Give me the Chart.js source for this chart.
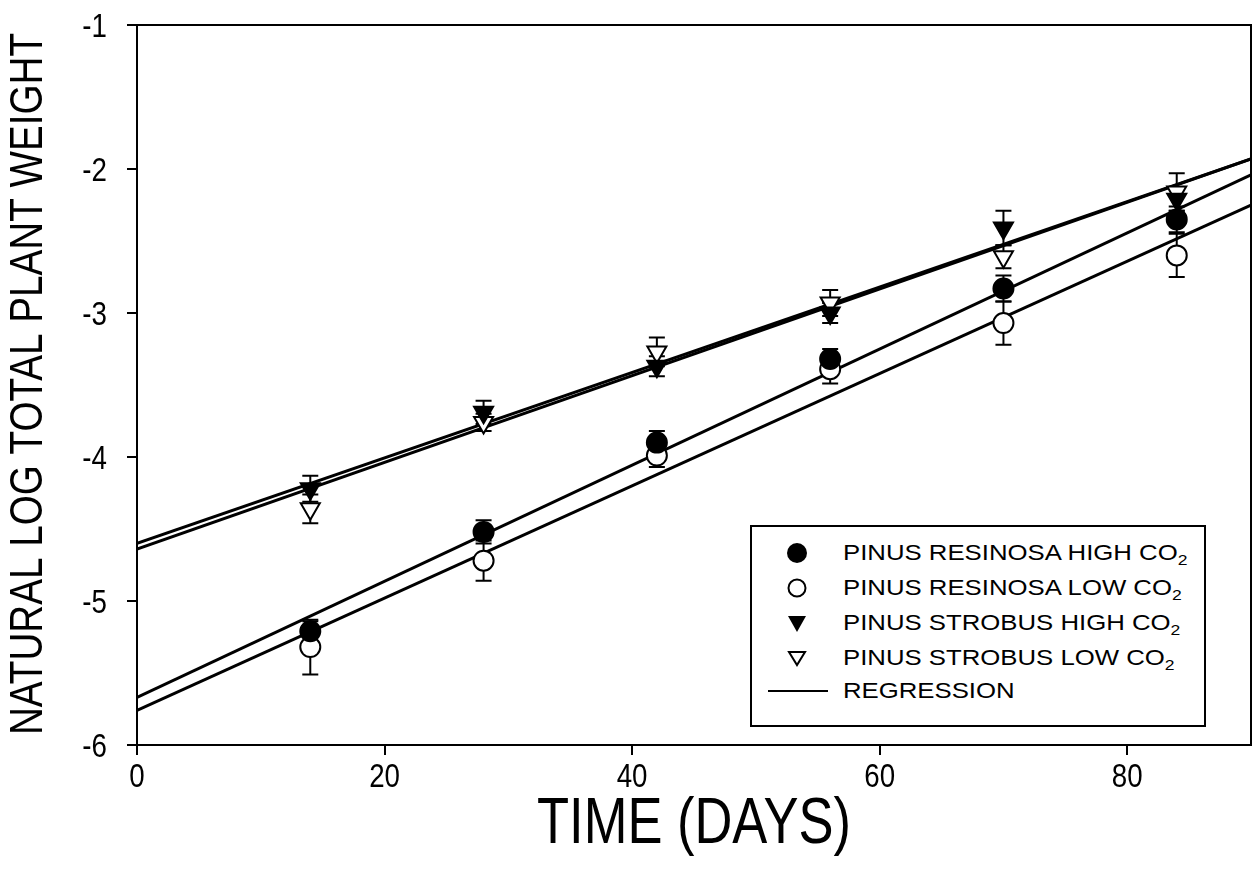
<!DOCTYPE html>
<html>
<head>
<meta charset="utf-8">
<script src="https://cdn.jsdelivr.net/npm/chart.js@4.4.0/dist/chart.umd.min.js"></script>
<style>
  html, body { margin: 0; background: #fff; overflow: hidden; }
  #wrap { position: relative; width: 1258px; height: 874px; }
  #growthChart { display: block; }
  #legend {
    position: absolute; left: 750px; top: 525px; width: 452px; height: 198px;
    border: 2px solid #000; background: #fff;
    font-family: "Liberation Sans", Arial, sans-serif; font-size: 22px; color: #000;
  }
  #legend .row { position: absolute; left: 0; height: 30px; line-height: 30px; white-space: nowrap; }
  #legend svg { position: absolute; left: 0; top: 0; }
  #legend span { position: absolute; left: 91px; transform: scaleX(1.17); transform-origin: 0 50%; }
  #legend sub { font-size: 15px; vertical-align: -5px; line-height: 0; }
</style>
</head>
<body>
<div id="wrap">
  <canvas id="growthChart" width="1258" height="874"></canvas>
  <div id="legend"></div>
</div>
<script>
// data
const days = [14, 28, 42, 56, 70, 84];
const resinosaHigh = [-5.21, -4.52, -3.90, -3.32, -2.83, -2.35];
const resinosaLow  = [-5.32, -4.72, -3.99, -3.39, -3.07, -2.60];
const strobusHigh  = [-4.22, -3.69, -3.37, -3.00, -2.41, -2.21];
const strobusLow   = [-4.36, -3.76, -3.27, -2.93, -2.61, -2.16];

// standard errors
const resinosaHighErr = [0.07, 0.08, 0.08, 0.07, 0.09, 0.09];
const resinosaLowErr  = [0.19, 0.14, 0.08, 0.10, 0.15, 0.15];
const strobusHighErr  = [0.09, 0.08, 0.07, 0.07, 0.12, 0.08];
const strobusLowErr   = [0.10, 0.06, 0.10, 0.09, 0.08, 0.13];

// regression lines, value at day 0 and day 90
const regDays = [0, 90];
const regStart = [-5.67, -5.76, -4.60, -4.64];
const regEnd   = [-2.04, -2.25, -1.93, -1.93];

const xTicks = [0, 20, 40, 60, 80];
const yTicks = [-6, -5, -4, -3, -2, -1];

const xTitle = 'TIME (DAYS)';
const yTitle = 'NATURAL LOG TOTAL PLANT WEIGHT';

const legendLabels = [
    'PINUS RESINOSA HIGH CO<sub>2</sub>',
    'PINUS RESINOSA LOW CO<sub>2</sub>',
    'PINUS STROBUS HIGH CO<sub>2</sub>',
    'PINUS STROBUS LOW CO<sub>2</sub>',
    'REGRESSION'
];

const font = '"Liberation Sans", Arial, sans-serif';

function points(ys) {
    return days.map((d, i) => ({ x: d, y: ys[i] }));
}

const series = [
    { label: 'PINUS RESINOSA HIGH CO2', ys: resinosaHigh, err: resinosaHighErr, style: 'circle', fill: '#000', r: 10, rot: 0 },
    { label: 'PINUS RESINOSA LOW CO2', ys: resinosaLow, err: resinosaLowErr, style: 'circle', fill: '#fff', r: 10, rot: 0 },
    { label: 'PINUS STROBUS HIGH CO2', ys: strobusHigh, err: strobusHighErr, style: 'triangle', fill: '#000', r: 11, rot: 180 },
    { label: 'PINUS STROBUS LOW CO2', ys: strobusLow, err: strobusLowErr, style: 'triangle', fill: '#fff', r: 11, rot: 180 }
];

const datasets = [];
regStart.forEach((s, i) => {
    datasets.push({
        type: 'line',
        label: 'REGRESSION',
        data: [{ x: regDays[0], y: s }, { x: regDays[1], y: regEnd[i] }],
        borderColor: '#000',
        borderWidth: 3,
        pointRadius: 0,
        pointHoverRadius: 0,
        fill: false,
        order: 5
    });
});
series.forEach(s => {
    datasets.push({
        type: 'scatter',
        label: s.label,
        data: points(s.ys),
        errors: s.err,
        pointStyle: s.style,
        pointRotation: s.rot,
        pointRadius: s.r,
        pointHoverRadius: s.r,
        backgroundColor: s.fill,
        borderColor: '#000',
        borderWidth: 2,
        order: 1
    });
});

// error bars, drawn under the markers
const errorBars = {
    id: 'errorBars',
    beforeDatasetsDraw(chart) {
        const { ctx, scales: { x, y } } = chart;
        ctx.save();
        ctx.strokeStyle = '#000';
        ctx.lineWidth = 2;
        chart.data.datasets.forEach(ds => {
            if (!ds.errors) return;
            ds.data.forEach((p, i) => {
                const px = x.getPixelForValue(p.x);
                const top = y.getPixelForValue(p.y + ds.errors[i]);
                const bot = y.getPixelForValue(p.y - ds.errors[i]);
                ctx.beginPath();
                ctx.moveTo(px, top); ctx.lineTo(px, bot);
                ctx.moveTo(px - 8, top); ctx.lineTo(px + 8, top);
                ctx.moveTo(px - 8, bot); ctx.lineTo(px + 8, bot);
                ctx.stroke();
            });
        });
        ctx.restore();
    }
};

// closed frame round the plot
const frame = {
    id: 'frame',
    afterDraw(chart) {
        const { ctx, chartArea: a } = chart;
        ctx.save();
        ctx.strokeStyle = '#000';
        ctx.lineWidth = 2;
        ctx.strokeRect(a.left, a.top, a.right - a.left, a.bottom - a.top);
        ctx.restore();
    }
};

// the original uses a narrow face, so squash Liberation Sans sideways
function squashed(c, text, px, py, align, sx, rot) {
    c.save();
    c.translate(px, py);
    if (rot) c.rotate(rot);
    c.scale(sx, 1);
    c.textAlign = align;
    c.textBaseline = 'alphabetic';
    c.fillText(text, 0, 0);
    c.restore();
}

const axisText = {
    id: 'axisText',
    afterDraw(chart) {
        const { ctx, chartArea: a, scales: { x, y } } = chart;
        ctx.save();
        ctx.fillStyle = '#000';
        ctx.font = '33px ' + font;
        x.ticks.forEach(t => squashed(ctx, t.label, x.getPixelForValue(t.value), 787, 'center', 0.84));
        y.ticks.forEach(t => squashed(ctx, t.label, 107, y.getPixelForValue(t.value) + 12, 'right', 0.84));
        ctx.font = '64px ' + font;
        squashed(ctx, xTitle, (a.left + a.right) / 2, 843, 'center', 0.82);
        ctx.font = '46px ' + font;
        squashed(ctx, yTitle, 42, 384, 'center', 0.84, -Math.PI / 2);
        ctx.restore();
    }
};

const ctx = document.getElementById('growthChart').getContext('2d');
const growthChart = new Chart(ctx, {
    data: { datasets: datasets },
    plugins: [errorBars, frame, axisText],
    options: {
        responsive: false,
        animation: false,
        layout: { autoPadding: false, padding: { top: 25, right: 7, left: 0, bottom: 0 } },
        plugins: {
            legend: { display: false },
            tooltip: { enabled: false }
        },
        scales: {
            x: {
                type: 'linear',
                min: 0,
                max: 90,
                afterBuildTicks: s => { s.ticks = xTicks.map(v => ({ value: v })); },
                afterFit: s => { s.height = 129; s.paddingLeft = 0; s.paddingRight = 0; },
                grid: { drawOnChartArea: false, drawTicks: true, tickLength: 10, color: '#000', lineWidth: 2 },
                border: { display: true, color: '#000', width: 2 },
                ticks: { display: false }
            },
            y: {
                type: 'linear',
                min: -6,
                max: -1,
                afterBuildTicks: s => { s.ticks = yTicks.map(v => ({ value: v })); },
                afterFit: s => { s.width = 137; s.paddingTop = 0; s.paddingBottom = 0; },
                grid: { drawOnChartArea: false, drawTicks: true, tickLength: 10, color: '#000', lineWidth: 2 },
                border: { display: true, color: '#000', width: 2 },
                ticks: { display: false }
            }
        }
    }
});

// legend box with subscripts
const legendMarks = [
    '<circle cx="45" cy="15" r="10" fill="#000"/>',
    '<circle cx="45" cy="15" r="8.5" fill="#fff" stroke="#000" stroke-width="2"/>',
    '<polygon points="36,8 54,8 45,24" fill="#000"/>',
    '<polygon points="37,9 53,9 45,22" fill="#fff" stroke="#000" stroke-width="2"/>',
    '<line x1="16" y1="15" x2="76" y2="15" stroke="#000" stroke-width="2"/>'
];
const legendRows = [11, 46, 81, 116, 149];
const legendBox = document.getElementById('legend');
legendLabels.forEach((txt, i) => {
    const row = document.createElement('div');
    row.className = 'row';
    row.style.top = legendRows[i] + 'px';
    row.style.width = '450px';
    row.innerHTML = '<svg width="90" height="30">' + legendMarks[i] + '</svg><span>' + txt + '</span>';
    legendBox.appendChild(row);
});
</script>
</body>
</html>
